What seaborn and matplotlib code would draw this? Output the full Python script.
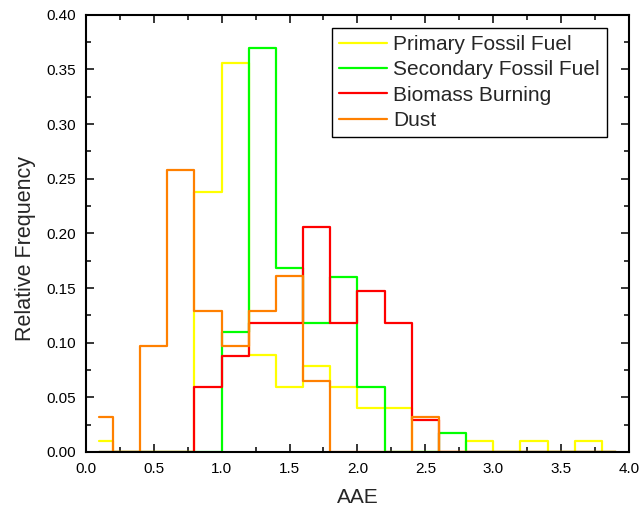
import matplotlib
matplotlib.use("Agg")
import matplotlib.pyplot as plt
import numpy as np
import seaborn as sns
from matplotlib.ticker import MultipleLocator, FormatStrFormatter

# bin edges (first and last bins are half width)
edges = [0.1] + [round(0.2 * k, 1) for k in range(1, 20)] + [3.9]
centers = [(a + b) / 2 for a, b in zip(edges[:-1], edges[1:])]

primary = [0.010, 0, 0, 0, 0.238, 0.356, 0.089, 0.059, 0.079, 0.059,
           0.040, 0.040, 0, 0, 0.010, 0, 0.010, 0, 0.010, 0]
secondary = [0, 0, 0, 0, 0, 0.110, 0.370, 0.168, 0.118, 0.160,
             0.059, 0, 0, 0.017, 0, 0, 0, 0, 0, 0]
biomass = [0, 0, 0, 0, 0.059, 0.088, 0.118, 0.118, 0.206, 0.118,
           0.147, 0.118, 0.029, 0, 0, 0, 0, 0, 0, 0]
dust = [0.032, 0, 0.097, 0.258, 0.129, 0.097, 0.129, 0.161, 0.065, 0,
        0, 0, 0.032, 0, 0, 0, 0, 0, 0, 0]

series = [
    ("Primary Fossil Fuel", primary, "#FFFF00"),
    ("Secondary Fossil Fuel", secondary, "#00FF00"),
    ("Biomass Burning", biomass, "#FF0000"),
    ("Dust", dust, "#FF8000"),
]

sns.set_style("ticks")
plt.rcParams["font.family"] = ["Liberation Sans", "DejaVu Sans"]

fig = plt.figure(figsize=(6.4, 5.11), dpi=100)
ax = fig.add_axes([0.134, 0.1155, 0.849, 0.8555])

for name, vals, col in series:
    sns.histplot(x=centers, weights=vals, bins=edges, element="step",
                 fill=False, color=col, linewidth=1.6, label=name, ax=ax)

ax.set_xlim(0, 4.0)
ax.set_ylim(0, 0.40)
ax.xaxis.set_major_locator(MultipleLocator(0.5))
ax.xaxis.set_minor_locator(MultipleLocator(0.25))
ax.yaxis.set_major_locator(MultipleLocator(0.05))
ax.yaxis.set_minor_locator(MultipleLocator(0.025))
ax.xaxis.set_major_formatter(FormatStrFormatter("%.1f"))
ax.yaxis.set_major_formatter(FormatStrFormatter("%.2f"))
ax.tick_params(which="both", direction="in", top=True, right=True,
               width=1.3, labelsize=11, labelcolor="black", pad=7)
ax.tick_params(which="major", length=6)
ax.tick_params(which="minor", length=3.5)
for sp in ax.spines.values():
    sp.set_visible(True)
    sp.set_linewidth(1.5)
    sp.set_color("black")

ax.set_xlabel("AAE", fontsize=15, labelpad=9)
ax.set_ylabel("Relative Frequency", fontsize=15.5)
ax.yaxis.set_label_coords(-0.092, 0.465)

leg = ax.legend(loc="upper right", bbox_to_anchor=(0.96, 0.97),
                borderaxespad=0, fontsize=15, frameon=True, fancybox=False,
                handlelength=2.3, handletextpad=0.3, labelspacing=0.3,
                borderpad=0.35)
leg.get_frame().set_edgecolor("black")
leg.get_frame().set_linewidth(1.0)
leg.get_frame().set_alpha(1)

fig.savefig("out.png", dpi=100)
